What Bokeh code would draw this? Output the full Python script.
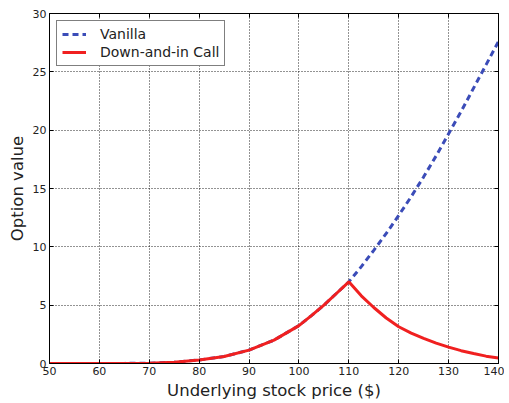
from bokeh.plotting import figure
from bokeh.models import Range1d, LinearAxis, FixedTicker
from bokeh.embed import file_html
from bokeh.resources import INLINE

# Underlying stock price grid
stock_price = [50, 55, 60, 65, 70, 75, 80, 85, 90, 95, 100, 102.5, 105, 107.5, 110,
               112.5, 115, 117.5, 120, 122.5, 125, 127.5, 130, 132.5, 135, 137.5, 140]
vanilla = [0.0, 0.0, 0.0, 0.01, 0.03, 0.11, 0.3, 0.6, 1.15, 2.0, 3.25, 4.1, 5.0, 6.0, 7.0,
           8.3, 9.7, 11.15, 12.7, 14.3, 16.0, 17.8, 19.7, 21.6, 23.6, 25.6, 27.6]
down_and_in = [0.0, 0.0, 0.0, 0.01, 0.03, 0.11, 0.3, 0.6, 1.15, 2.0, 3.25, 4.1, 5.0, 6.0, 7.0,
               5.8, 4.8, 3.9, 3.15, 2.6, 2.15, 1.75, 1.4, 1.1, 0.85, 0.63, 0.47]
x_ticks = [50, 60, 70, 80, 90, 100, 110, 120, 130, 140]
y_ticks = [0, 5, 10, 15, 20, 25, 30]

FONT = "DejaVu Sans"
TXT = "#222222"

p = figure(frame_width=449, frame_height=350, output_backend="svg", toolbar_location=None,
           x_range=Range1d(50, 140), y_range=Range1d(0, 30),
           min_border_left=49, min_border_right=6, min_border_top=13, min_border_bottom=0)
p.background_fill_color = "white"
p.border_fill_color = "white"
p.outline_line_color = "black"
p.outline_line_width = 1

for ax in p.xaxis + p.yaxis:
    ax.major_tick_in = 4
    ax.major_tick_out = 0
    ax.minor_tick_line_color = None
    ax.axis_line_color = "black"
    ax.major_label_text_font = FONT
    ax.major_label_text_font_size = "11px"
    ax.major_label_text_color = TXT
    ax.major_label_standoff = 3
    ax.axis_label_text_font = FONT
    ax.axis_label_text_font_size = "16.5px"
    ax.axis_label_text_font_style = "normal"
    ax.axis_label_text_color = TXT
    ax.axis_label_standoff = 3

p.xaxis.ticker = FixedTicker(ticks=x_ticks)
p.yaxis.ticker = FixedTicker(ticks=y_ticks)
p.xaxis.axis_label = "Underlying stock price ($)"
p.yaxis.axis_label = "Option value"

for loc, ticks in (("above", x_ticks), ("right", y_ticks)):
    ax = LinearAxis(ticker=FixedTicker(ticks=ticks), major_tick_in=4, major_tick_out=0,
                    minor_tick_line_color=None, major_label_text_color=None,
                    major_label_text_font_size="1px",
                    major_label_standoff=0, axis_line_color="black")
    p.add_layout(ax, loc)

p.xgrid.ticker = FixedTicker(ticks=x_ticks)
p.ygrid.ticker = FixedTicker(ticks=y_ticks)
for g in (p.xgrid[0], p.ygrid[0]):
    g.grid_line_color = "black"
    g.grid_line_dash = "1 2"
    g.grid_line_width = 1
    g.grid_line_alpha = 0.85

p.line(stock_price, vanilla, line_color="#3b4cb8", line_width=3, line_dash="6 4",
       legend_label="Vanilla")
p.line(stock_price, down_and_in, line_color="#f02020", line_width=3,
       legend_label="Down-and-in Call")

lg = p.legend[0]
lg.location = "top_left"
lg.margin = 7
lg.padding = 5
lg.spacing = 2
lg.glyph_width = 24
lg.glyph_height = 16
lg.label_height = 16
lg.label_standoff = 14
lg.label_text_font = FONT
lg.label_text_font_size = "14px"
lg.label_text_color = TXT
lg.border_line_color = "black"
lg.border_line_width = 1
lg.background_fill_alpha = 1.0

open("out.html", "w").write(file_html(p, INLINE))
